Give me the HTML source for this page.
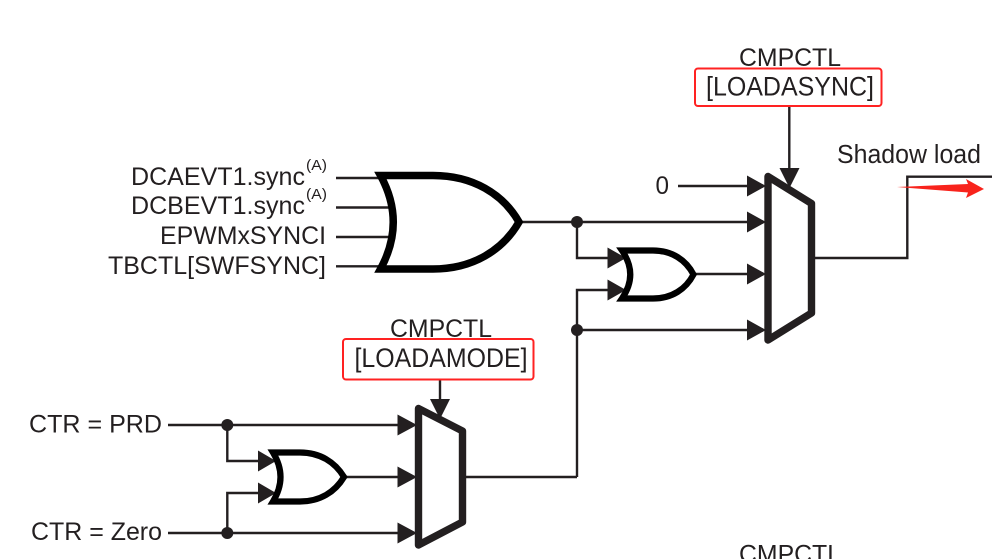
<!DOCTYPE html>
<html><head><meta charset="utf-8"><style>
html,body{margin:0;padding:0;background:#fff}
svg{display:block}
text{font-family:"Liberation Sans",sans-serif;font-size:25px;fill:#231f20}
.w{fill:none;stroke:#231f20;stroke-width:2.4}
.g{fill:none;stroke:#000;stroke-linejoin:miter}
.m{fill:none;stroke:#231f20;stroke-width:7.4;stroke-linejoin:round}
.a{fill:#231f20}
.r{fill:none;stroke:#f22;stroke-width:2}
</style></head><body>
<svg width="992" height="559" viewBox="0 0 992 559" xmlns="http://www.w3.org/2000/svg">
<!-- wires -->
<path class="w" d="M336 178H385M336 207.5H392M336 237H392M336 266.3H385"/>
<path class="w" d="M520 222H750M577 222V258H610M577 477V290H610M577 330H750M695 274H750"/>
<path class="w" d="M678 186H750M789.3 107V170M815 258H907.3V176.7H992"/>
<path class="w" d="M168 425H400M227.3 425V461H260M227.3 533V493H260M168 533H400M346 477H400M466 477H577M440 380V402"/>
<!-- arrowheads -->
<path class="a" d="M747 175.5L766 186L747 196.5ZM747 211.5L766 222L747 232.5ZM747 263.5L766 274L747 284.5ZM747 319.5L766 330L747 340.5Z"/>
<path class="a" d="M779.5 168H799.5L789.5 188Z"/>
<path class="a" d="M607.5 247.5L626 258L607.5 268.5ZM607.5 279.5L626 290L607.5 300.5Z"/>
<path class="a" d="M397.5 414.5L417 425L397.5 435.5ZM397.5 466.5L417 477L397.5 487.5ZM397.5 522.5L417 533L397.5 543.5Z"/>
<path class="a" d="M430 399H450L440 419Z"/>
<path class="a" d="M258 450.5L276 461L258 471.5ZM258 482.5L276 493L258 503.5Z"/>
<!-- dots -->
<circle class="a" cx="577" cy="222" r="6"/><circle class="a" cx="577" cy="330" r="6"/>
<circle class="a" cx="227.3" cy="425" r="6"/><circle class="a" cx="227.3" cy="533" r="6"/>
<!-- OR gates -->
<path class="g" stroke-width="7.5" d="M380.5 175.5Q406 222 380.5 269H433C473 269 503 250 519 222C503 194 473 175.5 433 175.5Z"/>
<path class="g" stroke-width="6.2" d="M622 250.5Q638.5 274.5 622 298.5H653C672 298.5 686 289 693.5 274.5C686 260 672 250.5 653 250.5Z"/>
<path class="g" stroke-width="6.2" d="M273 452.5Q288 477 273 501.5H300C320 501.5 335 492 344 477C335 462 320 452.5 300 452.5Z"/>
<!-- muxes -->
<path class="m" d="M768 176.5L811.5 203.5V313L768 340Z"/>
<path class="m" d="M418.5 408.5L462.5 431V522L418.5 545Z"/>
<!-- red highlights -->
<rect class="r" x="695" y="68.5" width="186.5" height="37.5" rx="3"/>
<rect class="r" x="343" y="339" width="190.5" height="40.5" rx="3"/>
<path fill="#f8231c" d="M897 187L968 184L966 179L984 189L966 198L968 192.5Z"/>
<!-- labels -->
<text x="739" y="66" textLength="102" lengthAdjust="spacingAndGlyphs">CMPCTL</text>
<text x="706" y="95.5" style="font-size:26.5px" textLength="168" lengthAdjust="spacingAndGlyphs">[LOADASYNC]</text>
<text x="837" y="163" style="font-size:25.5px" textLength="144" lengthAdjust="spacingAndGlyphs">Shadow load</text>
<text x="655.5" y="194" textLength="13.5" lengthAdjust="spacingAndGlyphs">0</text>
<text x="131" y="185" textLength="174" lengthAdjust="spacingAndGlyphs">DCAEVT1.sync</text>
<text x="306" y="170" style="font-size:14.5px" textLength="21" lengthAdjust="spacingAndGlyphs">(A)</text>
<text x="131" y="214" textLength="174" lengthAdjust="spacingAndGlyphs">DCBEVT1.sync</text>
<text x="306" y="199" style="font-size:14.5px" textLength="21" lengthAdjust="spacingAndGlyphs">(A)</text>
<text x="160" y="244" textLength="166" lengthAdjust="spacingAndGlyphs">EPWMxSYNCI</text>
<text x="108" y="274" textLength="218" lengthAdjust="spacingAndGlyphs">TBCTL[SWFSYNC]</text>
<text x="390" y="337" textLength="102" lengthAdjust="spacingAndGlyphs">CMPCTL</text>
<text x="354.5" y="367" style="font-size:26.5px" textLength="173" lengthAdjust="spacingAndGlyphs">[LOADAMODE]</text>
<text x="29" y="432.5" textLength="133" lengthAdjust="spacingAndGlyphs">CTR = PRD</text>
<text x="31" y="540" textLength="131" lengthAdjust="spacingAndGlyphs">CTR = Zero</text>
<text x="739" y="562.5" textLength="102" lengthAdjust="spacingAndGlyphs">CMPCTL</text>
</svg>
</body></html>
